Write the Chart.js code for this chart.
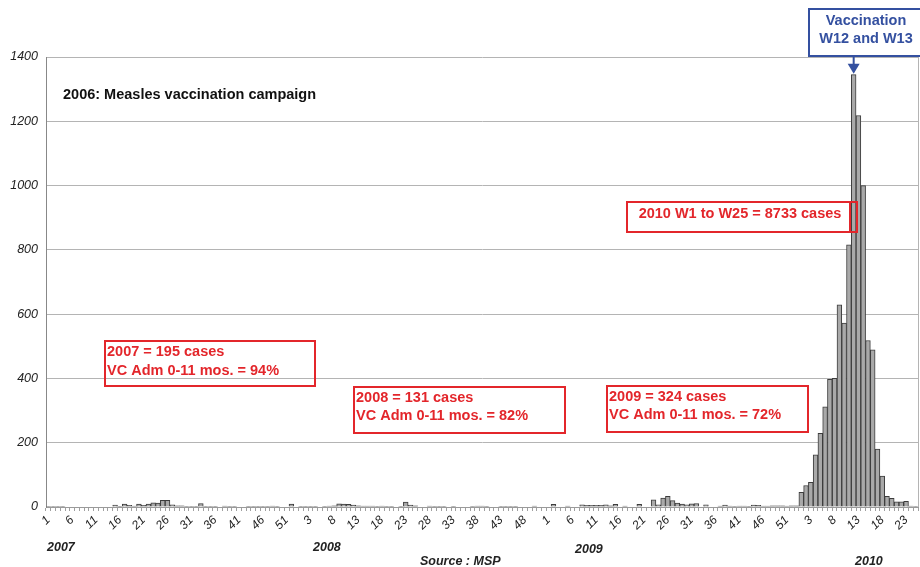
<!DOCTYPE html>
<html>
<head>
<meta charset="utf-8">
<script src="https://cdn.jsdelivr.net/npm/chart.js@4"></script>
<style>
body{margin:0;background:#fff}
canvas{display:block}
</style>
</head>
<body>
<canvas id="chart" width="920" height="567"></canvas>
<script>

// weekly measles cases
const cases2007=[2,2,2,1,0,0,0,0,0,0,0,0,0,0,6,2,9,5,3,9,5,9,13,12,21,21,7,4,4,2,1,1,11,2,2,1,0,3,2,2,0,0,2,2,2,2,2,3,2,0,0,9,0]
const cases2008=[2,2,1,1,0,2,3,4,10,9,8,6,4,3,3,3,2,3,2,2,0,2,15,6,4,0,0,3,2,2,2,0,1,0,0,0,2,3,3,2,0,0,2,2,1,2,0,0,0,3,0,0]
const cases2009=[0,8,0,0,3,0,0,7,5,5,5,5,7,4,8,0,3,0,0,8,0,0,22,7,28,33,20,12,9,7,10,11,0,7,0,0,3,6,3,2,3,3,1,6,5,3,3,4,4,4,3,4,4]
const cases2010=[46,67,77,162,229,312,397,400,629,572,816,1345,1218,1000,518,489,180,96,33,27,16,16,18,3,1]

const years=["2007","2008","2009","2010"]
const yTicks=[0,200,400,600,800,1000,1200,1400]

const yearNotes=[
["2007 = 195 cases","VC Adm 0-11 mos. = 94%"],
["2008 = 131 cases","VC Adm 0-11 mos. = 82%"],
["2009 = 324 cases","VC Adm 0-11 mos. = 72%"]
]
const note2010="2010 W1 to W25 = 8733 cases"
const campaignNote="2006: Measles vaccination campaign"
const vaccNote=["Vaccination","W12 and W13"]
const sourceNote="Source : MSP"

// week labels for each year
const series=[cases2007,cases2008,cases2009,cases2010]
let labels=[]
let values=[]
series.forEach(s=>{
s.forEach((v,i)=>{
labels.push(String(i+1))
values.push(v)
})
})

const RED="#e3262b"
const BLUE="#3450a0"
const BOLD="bold 14.5px 'Liberation Sans', Arial, sans-serif"

function box(ctx,x,y,w,h,color){
ctx.strokeStyle=color
ctx.lineWidth=2
ctx.strokeRect(x,y,w,h)
}

function text(ctx,t,x,y,font,color,align){
ctx.font=font
ctx.fillStyle=color
ctx.textAlign=align||"left"
ctx.textBaseline="middle"
ctx.fillText(t,x,y)
}

const notes={
id:"notes",
afterDraw(chart){

const ctx=chart.ctx
const a=chart.chartArea
const xs=chart.scales.x
const ys=chart.scales.y

ctx.save()

// right border of plot
ctx.strokeStyle="#b4b4b4"
ctx.lineWidth=1
ctx.beginPath()
ctx.moveTo(a.right+0.5,a.top)
ctx.lineTo(a.right+0.5,a.bottom)
ctx.stroke()

text(ctx,campaignNote,63,95,BOLD,"#111")

// red boxes
box(ctx,105,341,210,45,RED)
text(ctx,yearNotes[0][0],107,352,BOLD,RED)
text(ctx,yearNotes[0][1],107,371,BOLD,RED)

box(ctx,354,387,211,46,RED)
text(ctx,yearNotes[1][0],356,398,BOLD,RED)
text(ctx,yearNotes[1][1],356,416,BOLD,RED)

box(ctx,607,386,201,46,RED)
text(ctx,yearNotes[2][0],609,397,BOLD,RED)
text(ctx,yearNotes[2][1],609,415,BOLD,RED)

box(ctx,627,202,230,30,RED)
ctx.beginPath()
ctx.moveTo(850,202)
ctx.lineTo(850,232)
ctx.stroke()
text(ctx,note2010,740,214,BOLD,RED,"center")

// vaccination box + arrow to the peak week
let peak=values.indexOf(Math.max(...values))
let px=xs.getPixelForValue(peak)
let py=ys.getPixelForValue(values[peak])
box(ctx,809,9,116,47,BLUE)
text(ctx,vaccNote[0],866,21,BOLD,BLUE,"center")
text(ctx,vaccNote[1],866,39,BOLD,BLUE,"center")
ctx.strokeStyle=BLUE
ctx.lineWidth=2
ctx.beginPath()
ctx.moveTo(px,56)
ctx.lineTo(px,py-9)
ctx.stroke()
ctx.fillStyle=BLUE
ctx.beginPath()
ctx.moveTo(px-6,py-11)
ctx.lineTo(px+6,py-11)
ctx.lineTo(px,py-1)
ctx.closePath()
ctx.fill()

// years under the axis
const yf="bold italic 12.5px 'Liberation Sans', Arial, sans-serif"
text(ctx,years[0],47,548,yf,"#222")
text(ctx,years[1],313,548,yf,"#222")
text(ctx,years[2],575,550,yf,"#222")
text(ctx,years[3],855,562,yf,"#222")
text(ctx,sourceNote,420,562,yf,"#222")

ctx.restore()
}
}

new Chart(document.getElementById("chart"),{

type:"bar",

data:{
labels:labels,
datasets:[{
data:values,
backgroundColor:"#a9a9a9",
borderColor:"#3c3c3c",
borderWidth:1,
barPercentage:1,
categoryPercentage:1
}]
},

options:{
responsive:false,
animation:false,
layout:{padding:{top:57,right:2,left:0,bottom:0}},
plugins:{legend:{display:false},tooltip:{enabled:false}},
scales:{
x:{
grid:{drawOnChartArea:false,tickLength:4,color:"#a0a0a0"},
border:{color:"#9a9a9a"},
ticks:{
autoSkip:false,
minRotation:45,
maxRotation:45,
padding:2,
color:"#222",
font:{family:"'Liberation Sans', Arial",size:12,style:"italic"},
callback:(v,i)=>i%5===0?labels[i]:""
},
afterFit:s=>{s.height=60;s.paddingLeft=0;s.paddingRight=0}
},
y:{
min:0,
max:1400,
grid:{color:"#b4b4b4",drawTicks:false},
border:{color:"#888"},
afterBuildTicks:s=>{s.ticks=yTicks.map(v=>({value:v}))},
ticks:{
padding:8,
color:"#222",
font:{family:"'Liberation Sans', Arial",size:12.5,style:"italic"},
callback:v=>String(v)
},
afterFit:s=>{s.width=46}
}
}
},

plugins:[notes]

})

</script>
</body>
</html>
